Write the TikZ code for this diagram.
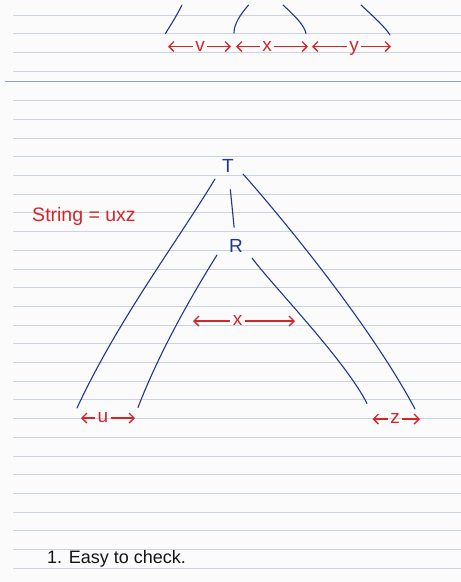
\documentclass[tikz,border=0pt]{standalone}
\usepackage{fontspec}
\setmainfont{Liberation Sans}
\usepackage{xcolor}
\usepackage{tikz}
\usetikzlibrary{arrows.meta}
\definecolor{paper}{HTML}{FBFBFC}
\definecolor{rule}{HTML}{CBD3DE}
\definecolor{divider}{HTML}{93A3B3}
\definecolor{ink}{HTML}{22378C}
\definecolor{pen}{HTML}{D3262B}
\definecolor{pencil}{HTML}{151515}
\tikzset{
  ruleline/.style={draw=rule, line width=1pt},
  tree/.style={draw=ink, line width=1.1pt, line cap=round},
  span/.style={-{Straight Barb[length=5pt,width=10pt]}, draw=pen, line width=1.4pt},
  spanlbl/.style={text=pen, font=\fontsize{19}{19}\selectfont,
    inner sep=2.5pt, text height=9pt, text depth=0pt},
  treelbl/.style={text=ink, font=\fontsize{19}{19}\selectfont, inner sep=1pt},
}

\begin{document}
\begin{tikzpicture}[x=1pt, y=-1pt]

  \fill[paper] (0,0) rectangle (461,582);
  \useasboundingbox (0,0) rectangle (461,582);

  \foreach \y in {15.7,33.7,52.7,71}
    \draw[ruleline] (13,\y) -- (461,\y);
  \draw[draw=divider, line width=1.4pt] (5,81.7) -- (461,81.7);
  \foreach \k in {1,...,26}
    \draw[ruleline] (13,{82+18.7*\k}) -- (461,{82+18.7*\k});

  % top: v x y
  \coordinate (s1-a) at (182,5);   \coordinate (s1-b) at (165.5,33.5);
  \coordinate (s2-a) at (248.5,5); \coordinate (s2-b) at (234,33);
  \coordinate (s3-a) at (283,5);   \coordinate (s3-b) at (306,33.5);
  \coordinate (s4-a) at (361,5);   \coordinate (s4-b) at (390,35);
  \draw[tree] (s1-a) .. controls (176,17) and (170,26) .. (s1-b);
  \draw[tree] (s2-a) .. controls (240,15) and (234,24) .. (s2-b);
  \draw[tree] (s3-a) .. controls (296,17) and (304,25) .. (s3-b);
  \draw[tree] (s4-a) .. controls (375,18) and (385,27) .. (s4-b);

  \node[spanlbl] (v) at (200,46.5) {v};
  \node[spanlbl] (xtop) at (267,46.5) {x};
  \node[spanlbl] (y) at (354,46.5) {y};
  \coordinate (v-l) at (168,46.5);    \coordinate (v-r) at (231,46.5);
  \coordinate (xtop-l) at (236,46.5); \coordinate (xtop-r) at (308,46.5);
  \coordinate (y-l) at (312,46.5);    \coordinate (y-r) at (391,46.5);
  \foreach \n in {v,xtop,y} {
    \draw[span] (\n) -- (\n-l);
    \draw[span] (\n) -- (\n-r);
  }

  % bottom: u x z
  \node[treelbl] (T) at (228,166) {T};
  \node[treelbl] (R) at (236,246) {R};
  \draw[tree, shorten <=16pt, shorten >=11pt] (T) -- (R);

  \coordinate (lo-top) at (215,179);  \coordinate (lo-bot) at (77,408);
  \coordinate (li-top) at (217,255);  \coordinate (li-bot) at (138,407.5);
  \coordinate (ro-top) at (243,174);  \coordinate (ro-bot) at (415,409);
  \coordinate (ri-top) at (252,258);  \coordinate (ri-bot) at (367,403.5);
  \draw[tree] (lo-top) .. controls (175,245) and (118,320) .. (lo-bot);
  \draw[tree] (li-top) .. controls (195,290) and (160,350) .. (li-bot);
  \draw[tree] (ro-top) .. controls (262,195) and (365,315) .. (ro-bot);
  \draw[tree] (ri-top) .. controls (272,285) and (345,360) .. (ri-bot);

  \node[spanlbl] (xmid) at (237.5,321) {x};
  \node[spanlbl] (u) at (103,418) {u};
  \node[spanlbl] (z) at (395,419) {z};
  \coordinate (xmid-l) at (193,321); \coordinate (xmid-r) at (295,321);
  \coordinate (u-l) at (81,418);     \coordinate (u-r) at (135,418);
  \coordinate (z-l) at (372.5,419);  \coordinate (z-r) at (420,419);
  \foreach \n in {xmid,u,z} {
    \draw[span] (\n) -- (\n-l);
    \draw[span] (\n) -- (\n-r);
  }

  \node[text=pen, font=\fontsize{19.5}{19.5}\selectfont, inner sep=0pt]
    (string) at (84,216) {String = uxz};

  \node[text=pencil, font=\fontsize{18}{18}\selectfont, inner sep=0pt,
        anchor=base west] (note) at (47,563) {1. Easy to check.};

\end{tikzpicture}
\end{document}
